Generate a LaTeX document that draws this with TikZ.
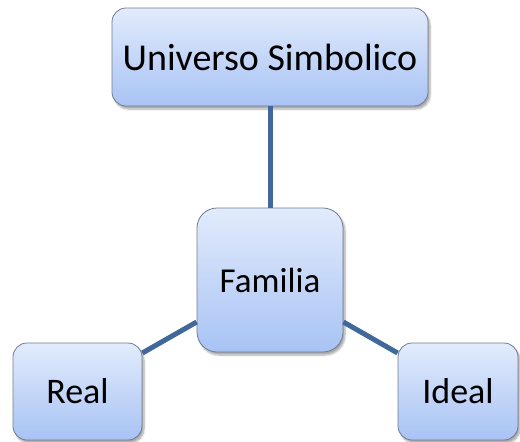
\documentclass[tikz,border=0pt]{standalone}
\usepackage{fontspec}
\setmainfont{Carlito}
\usetikzlibrary{shadows.blur}
\definecolor{boxtop}{HTML}{E2EBFC}
\definecolor{boxbot}{HTML}{A8C3F4}
\definecolor{boxline}{HTML}{6F7D90}
\definecolor{linkcol}{HTML}{41689A}
\tikzset{
  box/.style={draw=boxline, line width=0.8pt, top color=boxtop, bottom color=boxbot,
    rounded corners=14pt, inner sep=0pt, align=center,
    blur shadow={shadow xshift=2pt, shadow yshift=-3pt, shadow blur steps=6, shadow opacity=35}},
  link/.style={draw=linkcol, line width=5pt}
}
\begin{document}
\begin{tikzpicture}[x=1pt,y=-1pt]
\useasboundingbox (0,0) rectangle (520,442);
\node[box, minimum width=316pt, minimum height=98pt, font=\fontsize{38}{42}\selectfont] (univ) at (270,57) {Universo Simbolico};
\node[box, rounded corners=20pt, minimum width=146pt, minimum height=144pt, font=\fontsize{35}{40}\selectfont] (fam) at (270,280) {Familia};
\node[box, minimum width=129pt, minimum height=97pt, font=\fontsize{36}{40}\selectfont] (real) at (77.5,391.5) {Real};
\node[box, minimum width=120pt, minimum height=97pt, font=\fontsize{36}{40}\selectfont] (ideal) at (458,391.5) {Ideal};
\draw[link] (univ.south) -- (fam.north);
\draw[link] (real.east |- 0,353) -- (fam.west |- 0,322);
\draw[link] (ideal.west |- 0,353) -- (fam.east |- 0,322);
\end{tikzpicture}
\end{document}
